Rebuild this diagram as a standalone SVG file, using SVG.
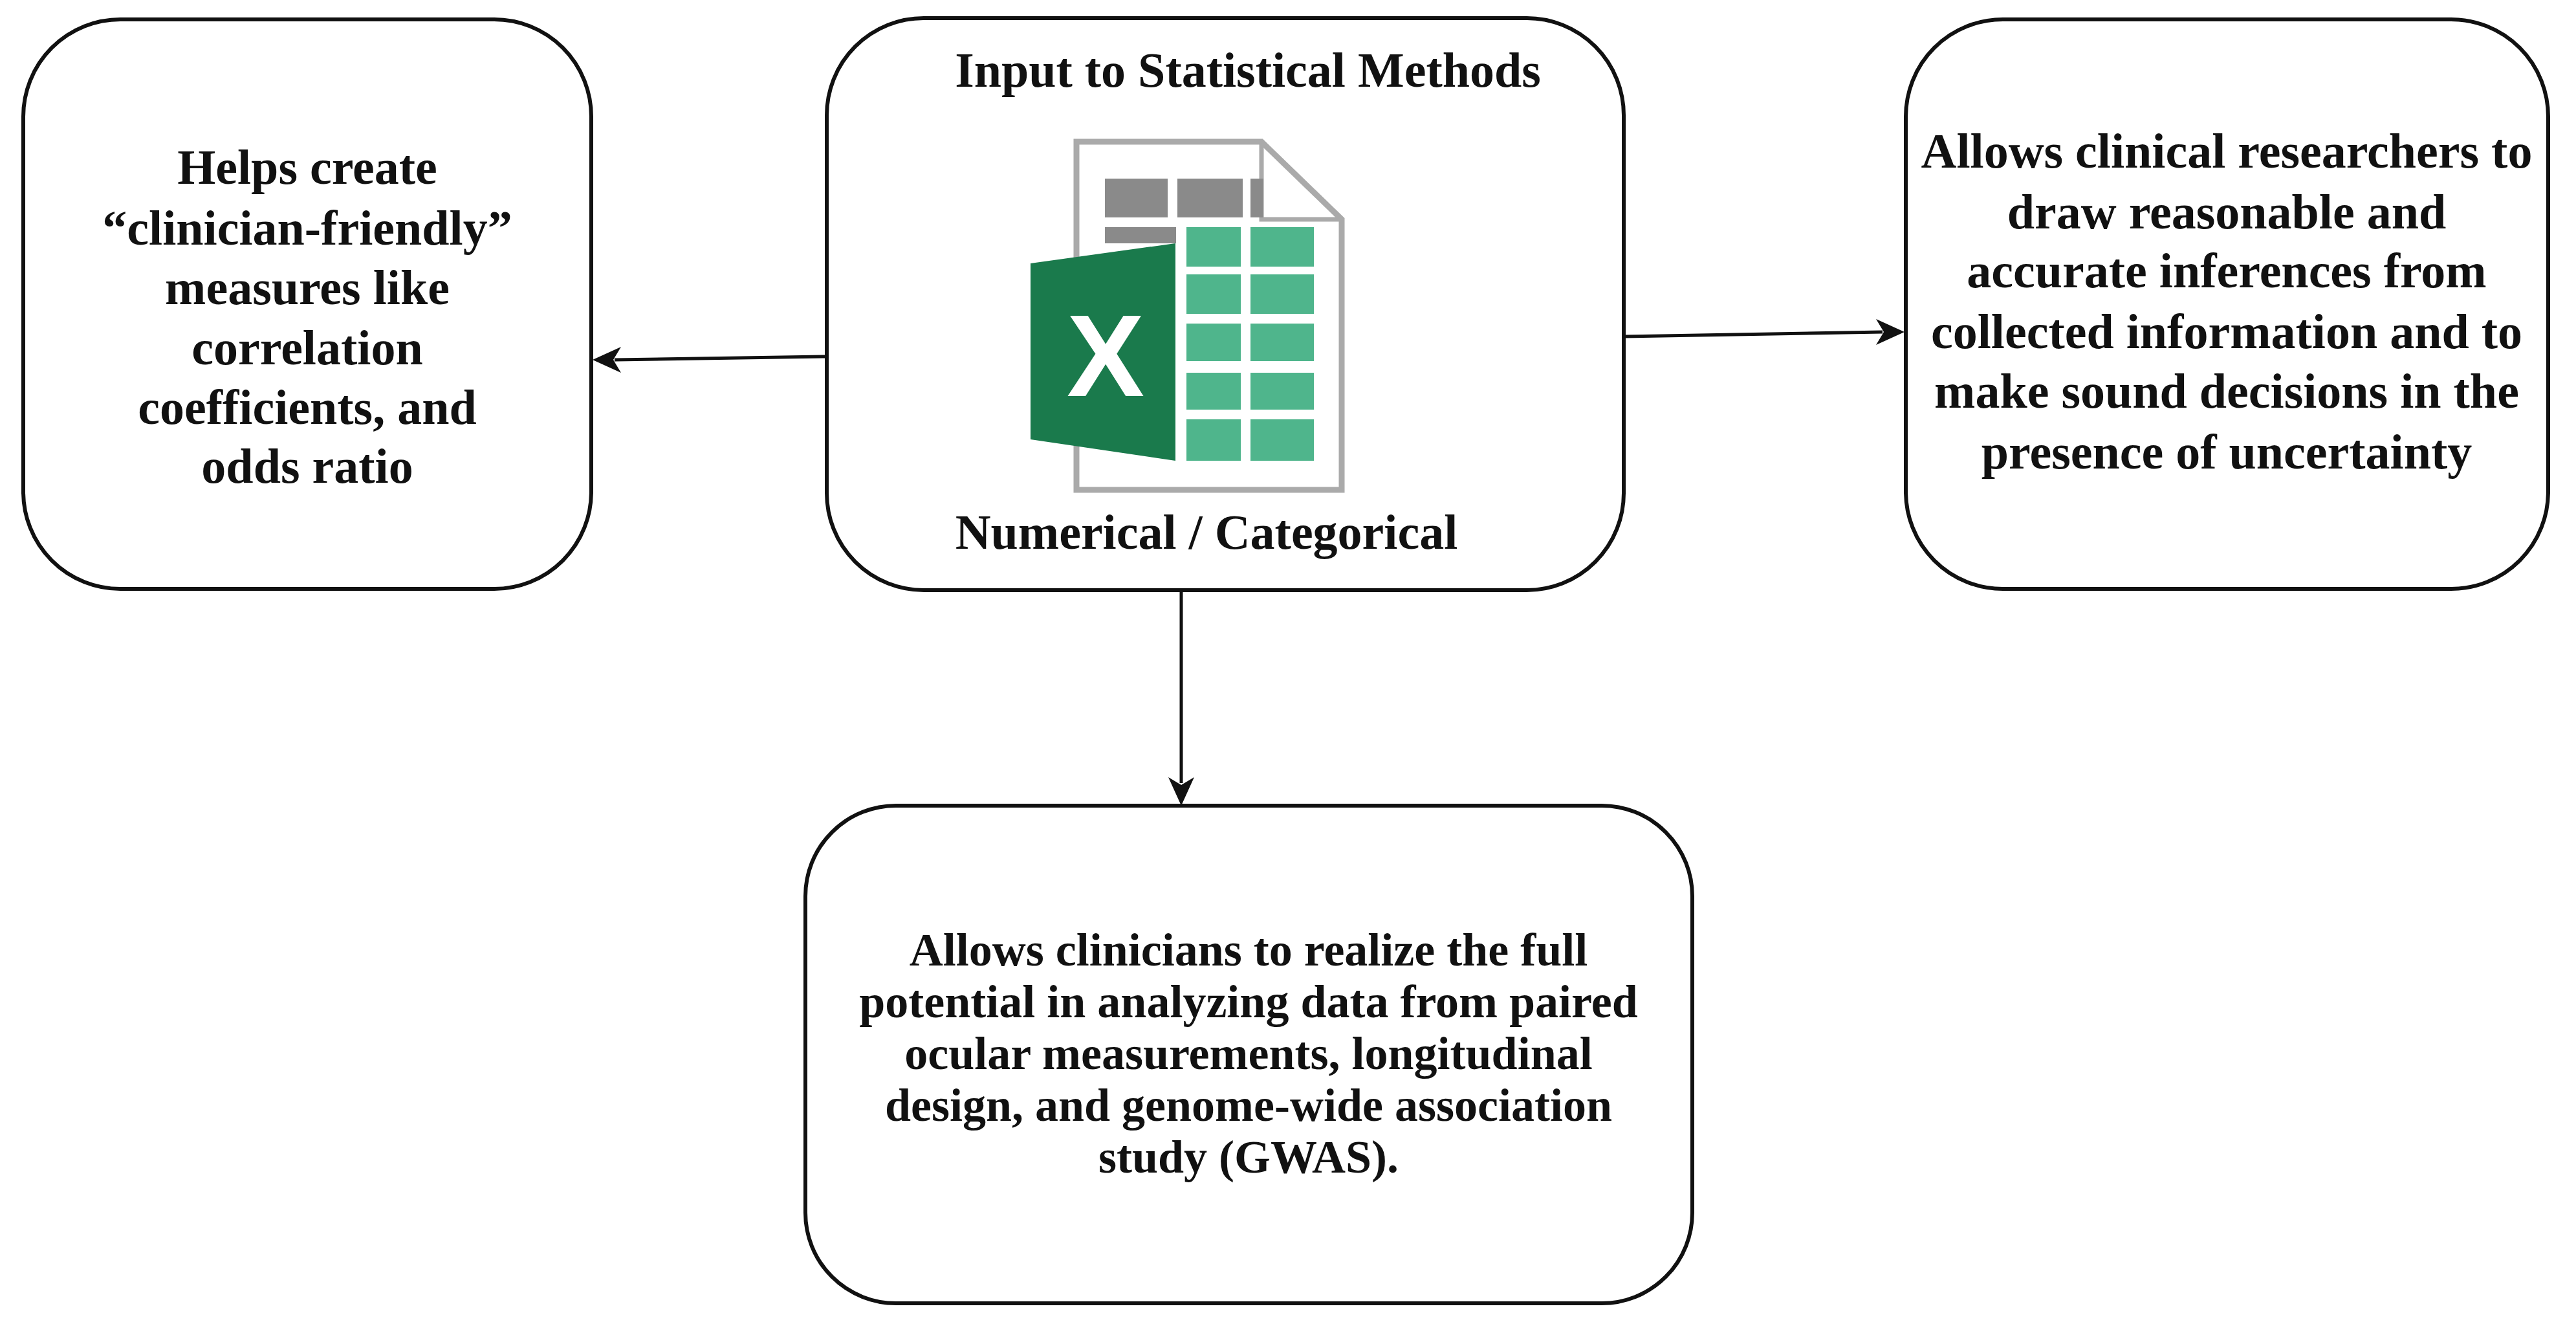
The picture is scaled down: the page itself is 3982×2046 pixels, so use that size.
<svg xmlns="http://www.w3.org/2000/svg" width="3982" height="2046" viewBox="0 0 3982 2046">
<style>
.box{fill:#fff;stroke:#111;stroke-width:6}
.t{font-family:"Liberation Serif",serif;font-weight:bold;font-size:76px;fill:#111;text-anchor:middle}
.b{font-size:72px}
.c{stroke:#111;stroke-width:5;fill:none}
.g{fill:#8a8a8a}.gr{fill:#4fb58c}
</style>
<rect width="3982" height="2046" fill="#fff"/>
<g id="connectors">
<line class="c" x1="1278" y1="551" x2="950" y2="556"/>
<line class="c" x1="2510" y1="520" x2="2910" y2="513"/>
<line class="c" x1="1826" y1="912" x2="1826" y2="1210"/>
<path d="M916,556 l44,-20 l-12,20 l12,20 z M2944,513 l-44,-20 l12,20 l-12,20 z M1826,1245 l-20,-44 l20,12 l20,-12 z" fill="#111"/>
</g>
<g id="left">
<rect class="box" x="36" y="30" width="878" height="880" rx="150"/>
<text class="t" x="475" y="284">Helps create</text>
<text class="t" x="475" y="378">“clinician-friendly”</text>
<text class="t" x="475" y="470">measures like</text>
<text class="t" x="475" y="563">correlation</text>
<text class="t" x="475" y="655">coefficients, and</text>
<text class="t" x="475" y="746">odds ratio</text>
</g>
<g id="center">
<rect class="box" x="1278" y="28" width="1232" height="884" rx="150"/>
<text class="t" x="1929" y="134">Input to Statistical Methods</text>
<path d="M1664,219 H1950 L2074,339 V757 H1664 Z" fill="#fff" stroke="#aaa" stroke-width="9"/>
<path d="M1950,219 V339 H2074" fill="none" stroke="#aaa" stroke-width="7"/>
<rect class="g" x="1708" y="276" width="97" height="60"/>
<rect class="g" x="1820" y="276" width="101" height="60"/>
<rect class="g" x="1933" y="276" width="20" height="60"/>
<rect class="g" x="1708" y="351" width="110" height="25"/>
<g class="gr">
<rect x="1834" y="351" width="84" height="61"/><rect x="1933" y="351" width="98" height="61"/>
<rect x="1834" y="424" width="84" height="61"/><rect x="1933" y="424" width="98" height="61"/>
<rect x="1834" y="500" width="84" height="58"/><rect x="1933" y="500" width="98" height="58"/>
<rect x="1834" y="576" width="84" height="57"/><rect x="1933" y="576" width="98" height="57"/>
<rect x="1834" y="648" width="84" height="64"/><rect x="1933" y="648" width="98" height="64"/>
</g>
<polygon points="1593,407 1817,376 1817,712 1593,679" fill="#1a7a4c"/>
<text x="1709" y="612" font-family="Liberation Sans,sans-serif" font-weight="bold" font-size="180" fill="#fff" text-anchor="middle">X</text>
<text class="t" x="1865" y="848">Numerical / Categorical</text>
</g>
<g id="right">
<rect class="box" x="2946" y="30" width="993" height="880" rx="150"/>
<text class="t" x="3442" y="259">Allows clinical researchers to</text>
<text class="t" x="3442" y="353">draw reasonable and</text>
<text class="t" x="3442" y="444">accurate inferences from</text>
<text class="t" x="3442" y="538">collected information and to</text>
<text class="t" x="3442" y="630">make sound decisions in the</text>
<text class="t" x="3442" y="724">presence of uncertainty</text>
</g>
<g id="bottom">
<rect class="box" x="1245" y="1245" width="1371" height="769" rx="140"/>
<text class="t b" x="1930" y="1492">Allows clinicians to realize the full</text>
<text class="t b" x="1930" y="1572">potential in analyzing data from paired</text>
<text class="t b" x="1930" y="1652">ocular measurements, longitudinal</text>
<text class="t b" x="1930" y="1732">design, and genome-wide association</text>
<text class="t b" x="1930" y="1812">study (GWAS).</text>
</g>
</svg>
